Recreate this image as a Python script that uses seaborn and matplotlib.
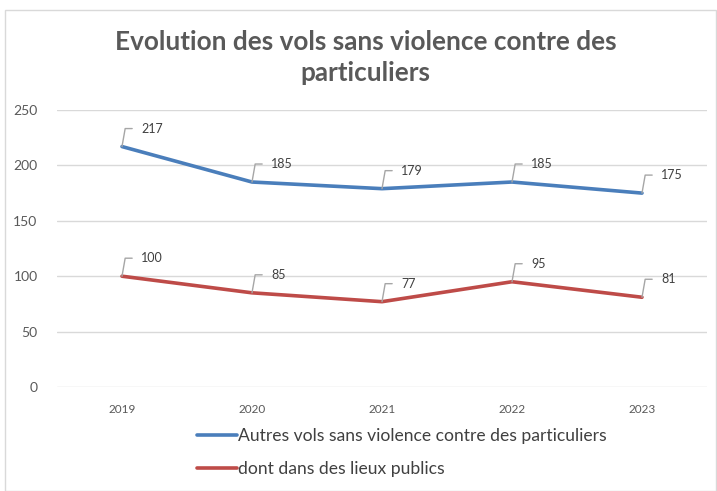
import pandas as pd
import matplotlib
matplotlib.use("Agg")
import matplotlib.pyplot as plt
import seaborn as sns
from matplotlib.patches import Rectangle
from matplotlib.lines import Line2D

years = ["2019", "2020", "2021", "2022", "2023"]
autres = [217, 185, 179, 185, 175]
publics = [100, 85, 77, 95, 81]
series_names = ["Autres vols sans violence contre des particuliers",
                "dont dans des lieux publics"]
colors = ["#4a7ebb", "#be4b48"]

df = pd.DataFrame({
    "Année": years * 2,
    "Valeur": autres + publics,
    "Série": [series_names[0]] * len(years) + [series_names[1]] * len(years),
})

sns.set_theme(style="white")
plt.rcParams["font.family"] = ["Lato", "DejaVu Sans"]

fig = plt.figure(figsize=(7.17, 4.91), dpi=100)
ax = fig.add_axes([57 / 717, 1 - 387 / 491, 650 / 717, 277 / 491])

sns.lineplot(data=df, x="Année", y="Valeur", hue="Série", palette=colors,
             linewidth=2.6, ax=ax, legend=False, sort=False)

ax.set_xlim(-0.5, 4.5)
ax.set_ylim(0, 250)
ax.set_yticks([0, 50, 100, 150, 200, 250])
ax.yaxis.grid(True, color="#d9d9d9", linewidth=1)
ax.set_axisbelow(True)
for s in ax.spines.values():
    s.set_visible(False)
ax.set_xlabel("")
ax.set_ylabel("")
ax.tick_params(axis="y", labelsize=10, colors="#595959", pad=14, length=0)
ax.tick_params(axis="x", labelsize=8.5, colors="#595959", pad=12, length=0)

# data labels with leader lines
for vals in (autres, publics):
    for i, v in enumerate(vals):
        ax.annotate(str(v), xy=(i, v), xytext=(19, 18), textcoords="offset pixels",
                    ha="left", va="center", fontsize=9, color="#404040",
                    arrowprops=dict(arrowstyle="-", color="#a6a6a6", lw=1,
                                    connectionstyle="angle,angleA=180,angleB=80,rad=0",
                                    relpos=(0, 0.5), shrinkA=4, shrinkB=0))

fig.text(0.51, 1 - 42 / 491, "Evolution des vols sans violence contre des",
         ha="center", va="center", fontsize=18.8, fontweight="bold", color="#595959")
fig.text(0.51, 1 - 73 / 491, "particuliers",
         ha="center", va="center", fontsize=18.8, fontweight="bold", color="#595959")

handles = [Line2D([], [], color=c, linewidth=2.6) for c in colors]
fig.legend(handles, series_names, loc="upper left", bbox_to_anchor=(197 / 717, 1 - 428 / 491),
           ncol=1, frameon=False, fontsize=12.6, handlelength=2.3, handletextpad=0.05,
           labelspacing=0.95, labelcolor="#404040", borderpad=0, borderaxespad=0)

fig.patches.append(Rectangle((5 / 717, 0), 711 / 717, 1 - 10 / 491,
                             transform=fig.transFigure, fill=False,
                             edgecolor="#d9d9d9", linewidth=1))

fig.savefig("out.png", dpi=100)
